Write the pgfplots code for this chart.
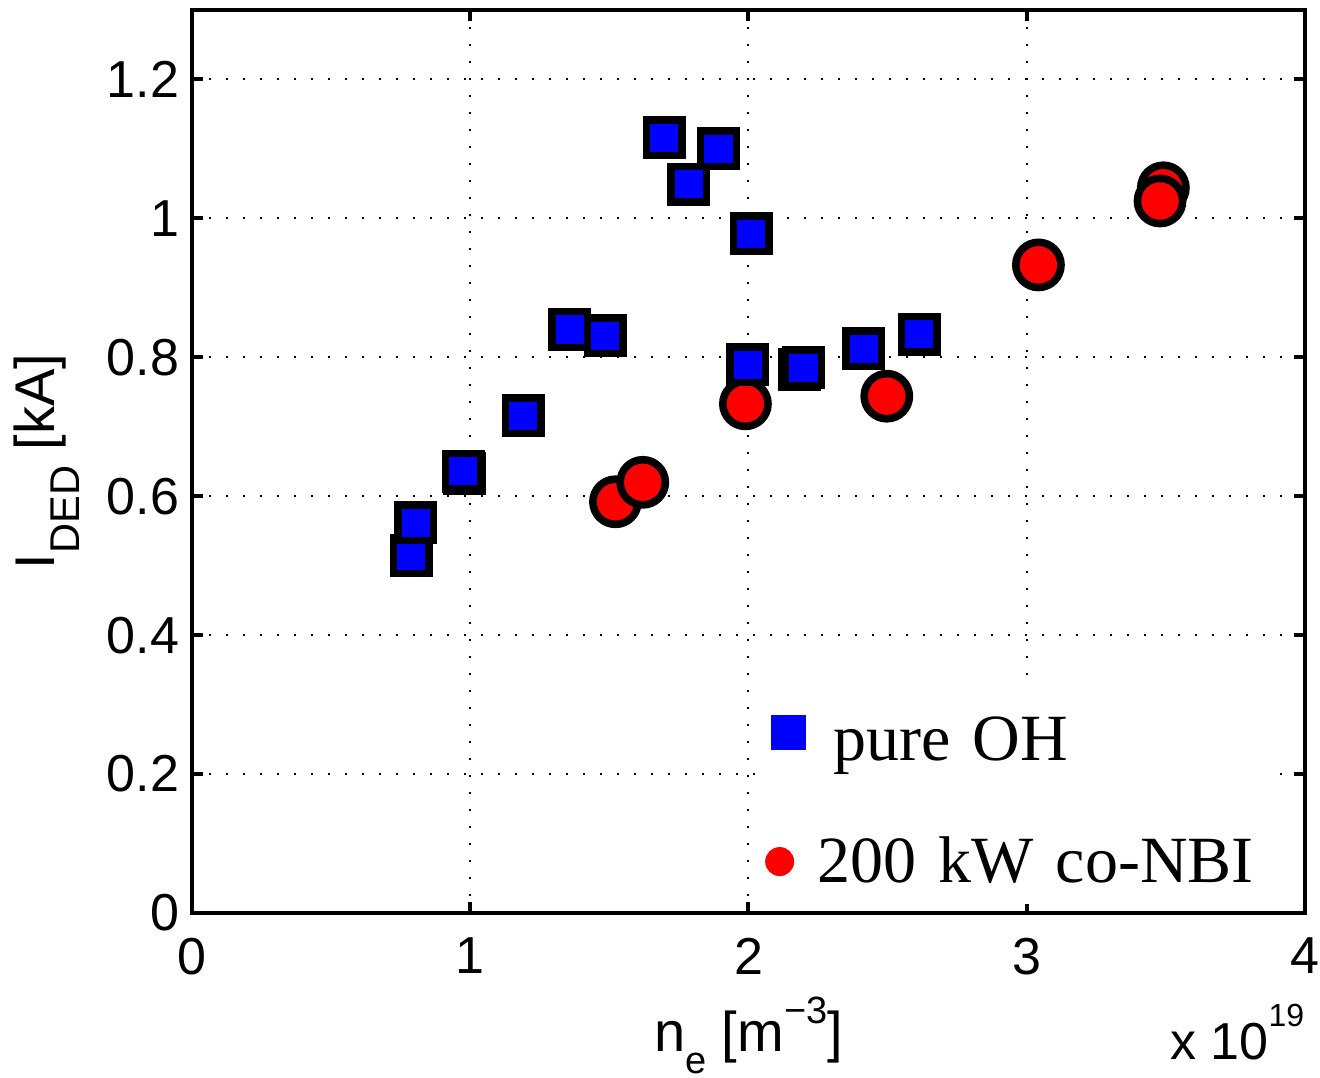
\documentclass[border=0pt]{standalone}
\usepackage{fontspec}
\usepackage{pgfplots}
\pgfplotsset{compat=1.18}
\setmainfont{Liberation Sans}
\newfontfamily\lsans{Liberation Sans}
\newfontfamily\lserif{Liberation Serif}

\begin{document}
\begin{tikzpicture}
\useasboundingbox (-48pt,-41.25pt) rectangle (282pt,228.25pt);
\begin{axis}[
  at={(0,0)}, anchor=south west,
  scale only axis, width=278.25pt, height=225.75pt,
  clip=false,
  xmin=0, xmax=4, ymin=0, ymax=1.3,
  xtick={0,1,2,3,4},
  ytick={0,0.2,0.4,0.6,0.8,1,1.2},
  tick align=inside, major tick length=2.7pt,
  every tick/.style={black, line width=1pt},
  axis line style={line width=1pt},
  grid=major,
  major grid style={black, line width=0.5pt, dash pattern=on 0.5pt off 3.75pt},
  /pgf/number format/assume math mode=true,
  tick label style={font=\lsans\fontsize{13}{15}\selectfont},
  yticklabel style={/pgf/number format/fixed, anchor=east, inner sep=0pt, xshift=-3pt},
  xticklabel style={anchor=north, inner sep=0pt, yshift=-6pt},
  xlabel={n\raisebox{-5.5pt}{\fontsize{9.5}{10}\selectfont e} [m\raisebox{7pt}{\fontsize{9.5}{10}\selectfont −3}]},
  xlabel style={at={(axis description cs:0.5,-0.1539)}, anchor=base, inner sep=0pt,
                font=\lsans\fontsize{14}{16}\selectfont},
  ylabel={I\raisebox{-6.25pt}{\fontsize{10.4}{12}\selectfont DED} [kA]},
  ylabel style={at={(axis description cs:-0.1231,0.5)}, anchor=base, inner sep=0pt,
                font=\lsans\fontsize{14}{16}\selectfont},
  legend cell align=left,
  legend style={at={(rel axis cs:0.5149,0.00886)}, anchor=south west,
                draw=none, fill=white, inner xsep=0pt, inner ysep=4pt,
                row sep=13.6pt,
                font=\lserif\fontsize{16.5}{20}\selectfont,
                nodes={inner xsep=2.95pt, inner ysep=1.4pt, text height=14pt,
                       text depth=0pt, text width=111.3pt, align=left}},
]
% legend entries (plain markers, no outline)
\addlegendimage{only marks, mark=square*, mark size=4.2pt,
                mark options={draw=blue, fill=blue, line width=0.35pt, xshift=2.3pt}}
\addlegendentry{\hspace*{4pt}pure OH}
\addlegendimage{only marks, mark=*, mark size=3.45pt,
                mark options={draw=red, fill=red, line width=0.35pt, yshift=-1.75pt}}
\addlegendentry{200 kW co-NBI}

% 200 kW co-NBI shots
\addplot[only marks, mark=*, mark size=5.65pt, forget plot,
         mark options={solid, draw=black, fill=red, line width=1.9pt}]
  coordinates {
  (1.522,0.592) (1.620,0.620) (1.989,0.733) (2.497,0.744)
  (3.042,0.933) (3.491,1.044) (3.479,1.025)
};

% pure ohmic shots
\addplot[only marks, mark=square*, mark size=4.45pt, forget plot,
         mark options={solid, draw=black, fill=blue, line width=1.85pt}]
  coordinates {
  (0.788,0.514) (0.805,0.562) (0.980,0.632) (0.975,0.636)
  (1.191,0.716) (1.358,0.840) (1.485,0.831)
  (1.697,1.116) (1.786,1.049) (1.892,1.100) (2.010,0.978)
  (1.997,0.789) (2.183,0.782) (2.198,0.785)
  (2.415,0.812) (2.614,0.833)
};

\node[anchor=base east, inner sep=0pt, font=\lsans\fontsize{13}{15}\selectfont]
  at (axis description cs:1,-0.1628) {x 10\raisebox{8.25pt}{\fontsize{8}{9}\selectfont 19}};
\end{axis}
\end{tikzpicture}
\end{document}
